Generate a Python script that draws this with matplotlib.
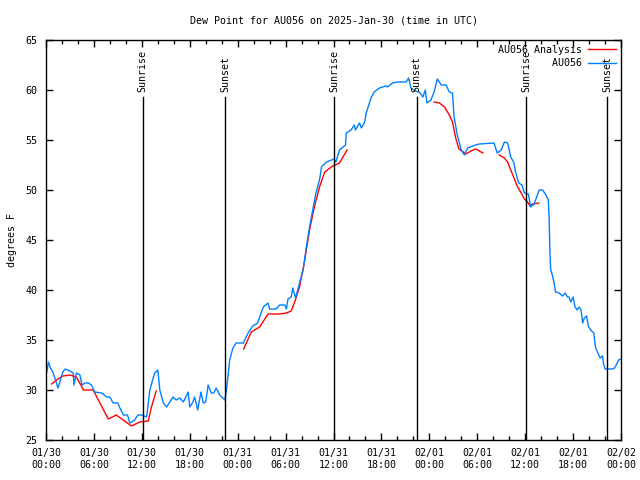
import numpy as np
import pandas as pd
import matplotlib
matplotlib.use("Agg")
import matplotlib.pyplot as plt
import matplotlib.dates as mdates

plt.rcParams["font.family"] = ["DejaVu Sans Mono"]
plt.rcParams["font.size"] = 7.2

start = pd.Timestamp("2025-01-30 00:00")

# observed dew point (hours since 01/30 00:00 UTC, deg F)
obs_h = [0.1, 0.3, 0.5, 0.9, 1.5, 2.1, 2.4, 3.0, 3.4, 3.5, 3.8, 4.25, 4.5, 4.9, 5.3, 5.7,
         6.1, 7.0, 7.6, 8.0, 8.4, 9.0, 9.25, 9.7, 10.2, 10.5, 11.1, 11.5, 12.0, 12.6, 13.0,
         13.6, 14.0, 14.25, 14.7, 15.1, 15.5, 15.9, 16.3, 16.75, 17.2, 17.8, 18.0, 18.4,
         18.6, 19.0, 19.4, 19.7, 20.0, 20.3, 20.7, 21.0, 21.3, 21.75, 22.4, 22.6, 23.0,
         23.4, 23.8, 24.7, 25.3, 25.9, 26.5, 27.2, 27.8, 28.0, 28.8, 29.25, 29.9, 30.1,
         30.3, 30.7, 30.9, 31.25, 31.75, 32.2, 32.6, 33.0, 33.4, 33.8, 34.25, 34.5, 35.1,
         36.1, 36.3, 36.75, 37.5, 37.6, 38.2, 38.6, 38.75, 39.25, 39.5, 39.9, 40.1, 40.7,
         41.1, 41.75, 42.6, 42.75, 43.4, 44.0, 45.1, 45.4, 45.7, 46.25, 46.75, 47.2, 47.5,
         47.7, 48.2, 48.6, 49.0, 49.5, 50.1, 50.5, 50.9, 51.1, 51.5, 52.0, 52.4, 52.8,
         53.4, 54.25, 56.1, 56.5, 57.0, 57.4, 57.8, 58.2, 58.6, 58.8, 59.2, 59.6, 59.9,
         60.4, 60.7, 61.1, 61.4, 61.75, 62.2, 62.6, 62.9, 63.0, 63.1, 63.2, 63.4, 63.6,
         63.8, 64.25, 64.7, 65.0, 65.3, 65.5, 65.7, 66.0, 66.25, 66.5, 66.75, 67.0, 67.2,
         67.4, 67.7, 67.9, 68.2, 68.6, 68.8, 69.1, 69.4, 69.7, 69.8, 70.0, 70.9, 71.2,
         71.4, 71.7, 72.0]
obs_v = [31.8, 32.8, 32.3, 31.7, 30.2, 31.8, 32.1, 31.9, 31.7, 30.5, 31.7, 31.5, 30.5,
         30.7, 30.7, 30.5, 29.8, 29.7, 29.3, 29.3, 28.7, 28.7, 28.2, 27.5, 27.5, 26.7,
         27.0, 27.5, 27.5, 27.3, 30.0, 31.7, 32.0, 30.0, 28.7, 28.3, 28.8, 29.3, 29.0,
         29.2, 28.8, 29.8, 28.3, 28.8, 29.3, 28.0, 29.8, 28.7, 28.8, 30.5, 29.7, 29.7,
         30.2, 29.5, 29.0, 30.0, 33.0, 34.2, 34.7, 34.7, 35.7, 36.4, 36.7, 38.3, 38.7,
         38.1, 38.1, 38.5, 38.5, 38.1, 39.1, 39.3, 40.2, 39.2, 40.7, 42.0, 44.3, 46.3,
         48.0, 49.7, 51.0, 52.3, 52.8, 53.1, 52.8, 54.0, 54.5, 55.7, 56.0, 56.5, 56.0,
         56.7, 56.2, 56.8, 57.7, 59.2, 59.8, 60.2, 60.4, 60.3, 60.7, 60.8, 60.8, 61.2,
         60.2, 59.9, 59.8, 59.3, 60.0, 58.7, 59.0, 59.8, 61.1, 60.5, 60.5, 59.8, 59.7,
         57.3, 55.5, 54.0, 53.5, 54.2, 54.4, 54.6, 54.7, 53.7, 54.0, 54.8, 54.7, 53.3,
         52.7, 51.8, 50.7, 50.5, 49.7, 49.6, 48.3, 48.6, 49.2, 50.0, 50.0, 49.5, 49.0,
         47.2, 43.8, 42.0, 41.5, 40.8, 39.8, 39.7, 39.4, 39.7, 39.3, 39.3, 38.8, 39.3,
         38.3, 38.0, 38.3, 38.0, 36.7, 37.2, 37.4, 36.4, 36.0, 35.7, 34.3, 33.7, 33.2,
         33.4, 32.7, 32.1, 32.1, 32.2, 32.5, 33.0, 33.1]

# analysis dew point, NaN marks gaps between segments
ana_h = [0.7, 1.5, 2.1, 3.0, 3.8, 4.7, 5.9, 6.75, 7.8, 8.8, 10.7, 11.75, 12.8, 13.2, 13.8,
         19.0,
         24.75, 25.7, 26.75, 27.8, 29.25, 30.1, 30.7, 31.1, 31.75, 32.4, 33.0, 33.6, 34.25,
         34.9, 35.9, 36.75, 37.7,
         43.0,
         48.6, 49.25, 49.9, 50.5, 50.9, 51.1, 51.3, 51.7, 52.25, 52.6, 53.2, 53.8, 54.7,
         55.5,
         56.75, 57.4, 57.8, 58.2, 58.6, 59.0, 59.5, 59.9, 60.3, 60.6, 60.9, 61.7]
ana_v = [30.6, 31.1, 31.4, 31.5, 31.3, 30.0, 30.0, 28.7, 27.1, 27.5, 26.4, 26.8, 26.9, 28.3, 29.9,
         np.nan,
         34.1, 35.8, 36.3, 37.6, 37.6, 37.7, 37.9, 38.7, 40.3, 43.0, 46.0, 48.3, 50.3,
         51.8, 52.4, 52.7, 54.0,
         np.nan,
         58.8, 58.7, 58.3, 57.5, 56.8, 56.0, 55.2, 54.1, 53.8, 53.6, 53.9, 54.1, 53.7,
         np.nan,
         53.5, 53.2, 52.8, 52.0, 51.2, 50.4, 49.7, 49.1, 48.8, 48.4, 48.6, 48.7]

sun_h = [12.1, 22.4, 36.1, 46.4, 60.1, 70.3]
sun_labels = ["Sunrise", "Sunset", "Sunrise", "Sunset", "Sunrise", "Sunset"]

to_time = lambda hrs: start + pd.to_timedelta(hrs, unit="h")

fig = plt.figure(figsize=(6.4, 4.8), dpi=100)
ax = fig.add_axes([0.0719, 0.0833, 0.8984, 0.8334])

ax.plot(to_time(ana_h), ana_v, color="#ff0000", lw=1, label="AU056 Analysis")
ax.plot(to_time(obs_h), obs_v, color="#0080ff", lw=1, label="         AU056")

for h, lab in zip(sun_h, sun_labels):
    t = to_time(h)
    ax.plot([t, t], [25, 59.3], color="black", lw=1)
    ax.text(t, 59.8, lab, rotation=90, ha="center", va="bottom")

ax.set_xlim(start, start + pd.Timedelta(hours=72))
ax.set_ylim(25, 65)
ax.set_yticks(np.arange(25, 66, 5))
ax.xaxis.set_major_locator(mdates.HourLocator(byhour=[0, 6, 12, 18]))
ax.xaxis.set_major_formatter(mdates.DateFormatter("%m/%d\n%H:%M"))
ax.xaxis.set_minor_locator(mdates.HourLocator(interval=2))
ax.tick_params(which="major", direction="in", top=True, right=True, length=5, width=1)
ax.tick_params(which="minor", direction="in", top=True, right=True, length=3, width=1)
ax.tick_params(axis="x", pad=6)
ax.tick_params(axis="y", pad=6)
for s in ax.spines.values():
    s.set_linewidth(1)

ax.set_ylabel("degrees F", labelpad=6)
ax.set_title("Dew Point for AU056 on 2025-Jan-30 (time in UTC)", fontsize=7.2, pad=12)

leg = ax.legend(loc="upper right", frameon=False, markerfirst=False, handlelength=2.8,
                borderaxespad=0.2, borderpad=0.3, labelspacing=0.35, handletextpad=0.6)

fig.savefig("out.png", dpi=100)
